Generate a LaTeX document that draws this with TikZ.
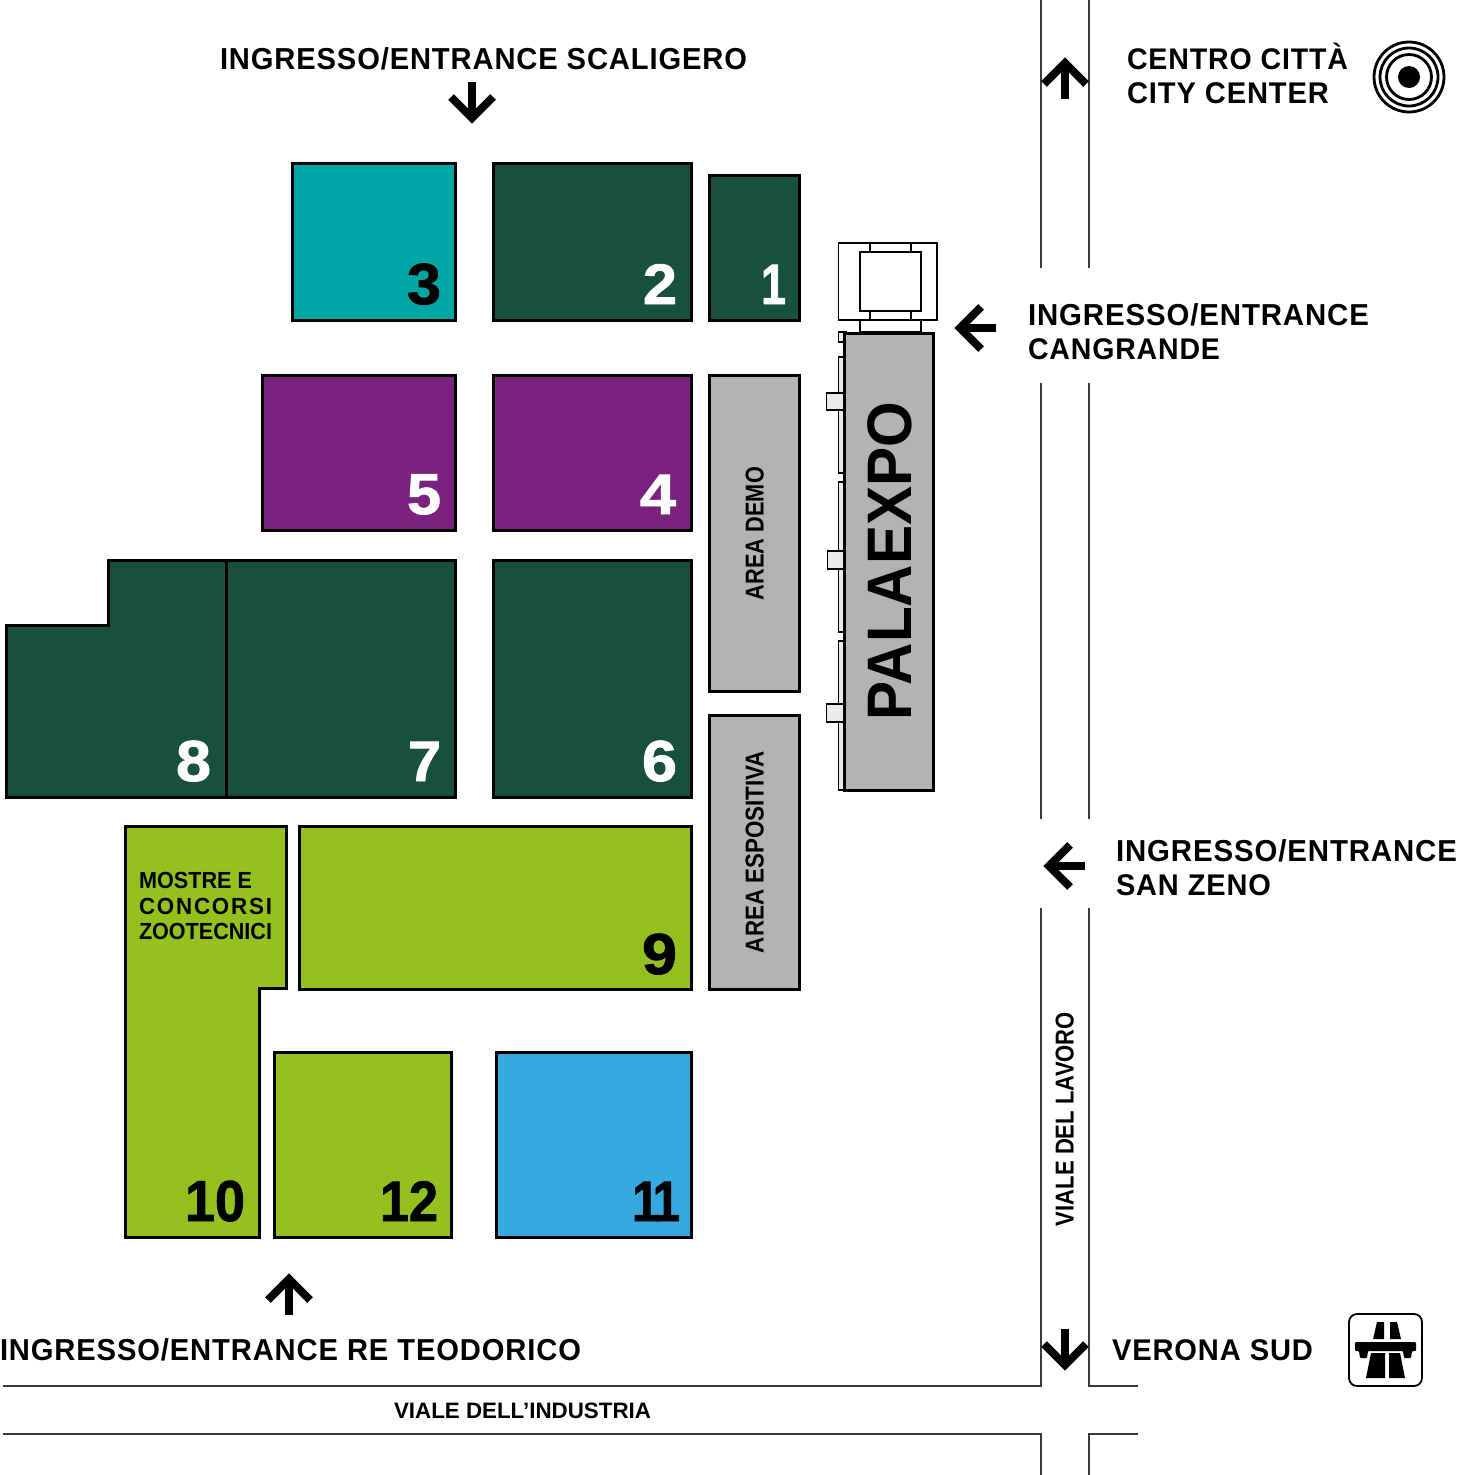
\documentclass[tikz,border=0pt]{standalone}
\usepackage{fontspec}
\usepackage{graphicx}
\setmainfont{Liberation Sans}
\definecolor{teal3}{HTML}{00A5A6}
\definecolor{dgreen}{HTML}{17503F}
\definecolor{purp}{HTML}{7B217E}
\definecolor{lgrey}{HTML}{B3B3B3}
\definecolor{lime}{HTML}{95C11F}
\definecolor{sky}{HTML}{36A9E1}
\definecolor{pale}{HTML}{EBEBEB}
\definecolor{roadc}{HTML}{3A3A3A}
% width in px, font size, text
\newcommand\fitw[3]{\resizebox{#1pt}{\totalheight}{\fontsize{#2pt}{#2pt}\selectfont\bfseries #3}}
\newcommand\fits[3]{\resizebox{#1pt}{\totalheight}{\fontsize{#2pt}{#2pt}\selectfont\bfseries\addfontfeature{LetterSpace=3}#3}}
\newcommand\fitn[3]{\resizebox{#1pt}{\totalheight}{\fontsize{#2pt}{#2pt}\selectfont\bfseries\addfontfeature{FakeBold=1.5}#3}}
\tikzset{
  hall/.style={draw=black,line width=3pt,line join=miter},
  thin box/.style={draw=black,line width=1.8pt,fill=white},
  pale box/.style={draw=black,line width=1.6pt,fill=pale},
  road/.style={draw=roadc,line width=1.5pt},
  lbl/.style={anchor=base west,inner sep=0pt,outer sep=0pt,text=black},
  num/.style={anchor=base east,inner sep=0pt,outer sep=0pt},
  vert/.style={anchor=base west,inner sep=0pt,outer sep=0pt,rotate=90,text=black},
  way/.style={draw=black,line width=8pt,line cap=butt,line join=miter,miter limit=10},
  way arrow/.pic={\draw[way] (-21,-21) -- (0,0) -- (21,-21);\draw[way] (0,0) -- (0,-36);}
}
\begin{document}
\begin{tikzpicture}[x=1pt,y=-1pt]
\useasboundingbox (0,0) rectangle (1457,1475);
% roads
\draw[road] (1041,0) -- (1041,268);
\draw[road] (1089,0) -- (1089,268);
\draw[road] (1041,383) -- (1041,819);
\draw[road] (1089,383) -- (1089,819);
\draw[road] (3,1386) -- (1041,1386) -- (1041,908);
\draw[road] (1138,1386) -- (1089,1386) -- (1089,908);
\draw[road] (3,1434) -- (1041,1434) -- (1041,1475);
\draw[road] (1138,1434) -- (1089,1434) -- (1089,1475);
% halls
\path[hall,fill=teal3] (292.5,163) rectangle (455,320.5);
\path[hall,fill=dgreen] (493.5,163) rectangle (691,320.5);
\path[hall,fill=dgreen] (709,175) rectangle (799,320.5);
\path[hall,fill=purp] (262.5,375) rectangle (455,530.5);
\path[hall,fill=purp] (493.5,375) rectangle (691,530.5);
\path[hall,fill=lgrey] (709.5,375) rectangle (799,691);
\path[hall,fill=dgreen] (6,625) -- (108,625) -- (108,560) -- (226,560) -- (226,797) -- (6,797) -- cycle;
\path[hall,fill=dgreen] (226,560) rectangle (455,797);
\path[hall,fill=dgreen] (493.5,560) rectangle (691,797);
\path[hall,fill=lgrey] (709.5,715) rectangle (799,989.5);
\path[hall,fill=lime] (299.5,826) rectangle (691,989.5);
\path[hall,fill=lime] (125,826) -- (286,826) -- (286,988) -- (259,988) -- (259,1237) -- (125,1237) -- cycle;
\path[hall,fill=lime] (274,1052.5) rectangle (451.5,1237);
\path[hall,fill=sky] (496.5,1052.5) rectangle (691,1237);
% palaexpo annexes
\path[thin box] (838.5,243) rectangle (937,320);
\path[thin box] (870,243) rectangle (911,252);
\path[thin box] (870,311) rectangle (911,320);
\path[thin box] (860,252) rectangle (921,311);
\path[thin box] (860,320) rectangle (921,332);
\path[pale box] (838.5,332) rectangle (846,342);
\path[pale box] (838.5,357) rectangle (846,473);
\path[pale box] (838.5,482) rectangle (846,632);
\path[pale box] (838.5,641) rectangle (846,790);
\path[pale box] (826.5,393) rectangle (846,410);
\path[pale box] (827.5,551) rectangle (846,569);
\path[pale box] (826.5,704) rectangle (846,722);
\path[hall,fill=lgrey] (844.5,333) rectangle (933,790);
% numbers
\node[num,text=black] (n3) at (441,304) {\fitn{34}{57}{3}};
\node[num,text=white] (n2) at (677,304) {\fitn{34}{57}{2}};
\node[num,text=white] (n1) at (786,304) {\fitn{25}{57}{1}};
\node[num,text=white] (n5) at (441,514) {\fitn{34}{57}{5}};
\node[num,text=white] (n4) at (676,514) {\fitn{36}{57}{4}};
\node[num,text=white] (n8) at (211,781) {\fitn{35}{57}{8}};
\node[num,text=white] (n7) at (441,781) {\fitn{33}{57}{7}};
\node[num,text=white] (n6) at (677,781) {\fitn{35}{57}{6}};
\node[num,text=black] (n9) at (677,974) {\fitn{35}{57}{9}};
\node[num,text=black] (n10) at (245,1221) {\fitn{60}{57}{10}};
\node[num,text=black] (n12) at (438,1221) {\fitn{58}{57}{12}};
\node[num,text=black] (n11) at (680,1221) {\fitn{48}{57}{1\kern-8pt 1}};
% labels
\node[lbl] (scal) at (220,69) {\fits{527}{29.5}{INGRESSO/ENTRANCE SCALIGERO}};
\node[lbl] (cen1) at (1127,69) {\fits{221}{29.5}{CENTRO CITTÀ}};
\node[lbl] (cen2) at (1127,103) {\fits{202}{29.5}{CITY CENTER}};
\node[lbl] (can1) at (1028,325) {\fits{341}{29.5}{INGRESSO/ENTRANCE}};
\node[lbl] (can2) at (1028,359) {\fits{192}{29.5}{CANGRANDE}};
\node[lbl] (san1) at (1116,861) {\fits{341}{29.5}{INGRESSO/ENTRANCE}};
\node[lbl] (san2) at (1116,895) {\fits{155}{29.5}{SAN ZENO}};
\node[lbl] (teo) at (0,1360) {\fits{581}{29.5}{INGRESSO/ENTRANCE RE TEODORICO}};
\node[lbl] (ver) at (1112,1360) {\fits{201}{29.5}{VERONA SUD}};
\node[lbl] (ind) at (394,1418) {\fitw{257}{22}{VIALE DELL’INDUSTRIA}};
\node[lbl] (mos1) at (139,888) {\fitw{113}{23}{MOSTRE E}};
\node[lbl] (mos2) at (139,914) {\resizebox{133pt}{\totalheight}{\fontsize{23pt}{23pt}\selectfont\bfseries\addfontfeature{LetterSpace=8}CONCORSI}};
\node[lbl] (mos3) at (139,939) {\fitw{133}{23}{ZOOTECNICI}};
\node[vert] (lav) at (1073.5,1226) {\fitw{214}{25.5}{VIALE DEL LAVORO}};
\node[vert] (demo) at (763.5,600) {\fitw{133}{25.5}{AREA DEMO}};
\node[vert] (espo) at (763.5,953) {\fitw{202}{25.5}{AREA ESPOSITIVA}};
\node[vert] (pal) at (911,720) {\fitw{318}{62}{PALAEXPO}};
% arrows (pic drawn pointing down; rotated as needed)
\pic at (472,118) {way arrow};
\pic[rotate=180] at (289,1279) {way arrow};
\pic[rotate=180] at (1065,63) {way arrow};
\pic[rotate=-90] at (960,328) {way arrow};
\pic[rotate=-90] at (1049,866) {way arrow};
\pic at (1065,1365) {way arrow};
% city centre target
\draw[black,line width=2.8pt] (1409,77) circle[radius=35];
\draw[black,line width=2.8pt] (1409,77) circle[radius=29];
\draw[black,line width=2.8pt] (1409,77) circle[radius=22.5];
\fill[black] (1409,77) circle[radius=11];
% motorway sign
\draw[black,line width=1.8pt,rounded corners=8pt] (1349,1314) rectangle (1422,1386);
\fill[black] (1377,1322) -- (1384,1322) -- (1384,1339) -- (1373,1339) -- cycle;
\fill[black] (1390,1322) -- (1397,1322) -- (1401,1339) -- (1390,1339) -- cycle;
\fill[black,rounded corners=1pt] (1355,1342) -- (1416,1342) -- (1416,1351) -- (1412,1351) -- (1411,1358) -- (1404,1358) -- (1403,1351) -- (1368,1351) -- (1367,1358) -- (1360,1358) -- (1359,1351) -- (1355,1351) -- cycle;
\fill[black] (1371,1353) -- (1385,1353) -- (1385,1378) -- (1366,1378) -- cycle;
\fill[black] (1389,1353) -- (1400,1353) -- (1405,1378) -- (1389,1378) -- cycle;
\end{tikzpicture}
\end{document}
